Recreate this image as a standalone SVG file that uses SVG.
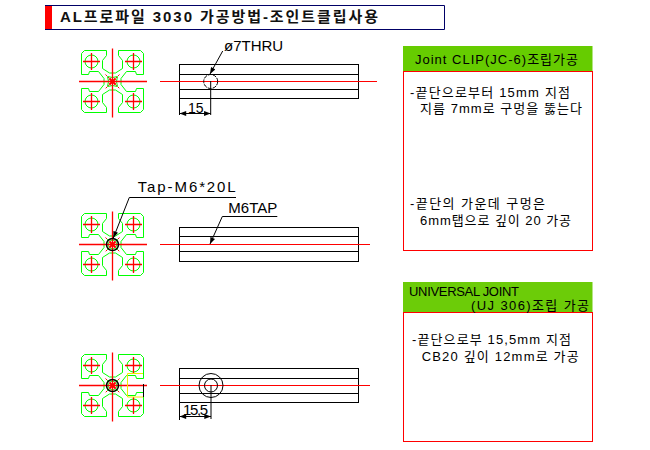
<svg xmlns="http://www.w3.org/2000/svg" xmlns:xlink="http://www.w3.org/1999/xlink" width="650" height="450" viewBox="0 0 650 450">
<style>
.k{fill:none;stroke:#000;stroke-width:1}
.r{fill:none;stroke:#f00;stroke-width:1}
.g{fill:none;stroke:#0f0;stroke-width:1}
.cad{font-family:"Liberation Sans","DejaVu Sans",sans-serif;font-size:15px;fill:#000}
.t{font-family:"Liberation Sans","Noto Sans CJK KR",sans-serif;font-size:13px;fill:#000}
.ti{font-family:"Liberation Sans","Noto Sans CJK KR",sans-serif;font-size:15px;font-weight:bold;fill:#111}
</style>
<defs>
<marker id="a" viewBox="0 0 8 6" refX="8" refY="3" markerWidth="8" markerHeight="5" orient="auto-start-reverse" markerUnits="userSpaceOnUse"><path d="M0,0L8,3L0,6z" fill="#000"/></marker>
<g id="hole"><circle r="6.500" class="g"/><path d="M-8.500,0H8.500M0,-8.500V8.500" class="r" style="stroke-width:1.300"/></g>
<g id="profile">
<path class="g" d="M-28,-31H-6V-26L-10,-21V-13L-3,-8.500H3L10,-13V-21L6,-26V-31H28L31,-28V-7H24L23,-10H14L8.500,-3V3L14,10H23L24,7H31V28L28,31H6V26L10,21V13L3,8.500H-3L-10,13V21L-6,26V31H-28L-31,28V7H-24L-23,10H-14L-8.500,3V-3L-14,-10H-23L-24,-7H-31V-28Z"/>
<path class="g" d="M-5,-5Q0,-3 5,-5Q3,0 5,5Q0,3 -5,5Q-3,0 -5,-5Z"/>
<use xlink:href="#hole" href="#hole" x="-21" y="-20"/><use xlink:href="#hole" href="#hole" x="21" y="-20"/>
<use xlink:href="#hole" href="#hole" x="-21" y="20"/><use xlink:href="#hole" href="#hole" x="21" y="20"/>
<path class="r" style="stroke-width:1.300" d="M-33.500,0H34.500M0,-33V36"/>
<path class="r" style="stroke-width:2" d="M-3,-3L3,3M3,-3L-3,3"/>
<path class="r" stroke-dasharray="2 1.500" d="M-7,-7L7,7M7,-7L-7,7"/>
</g>
</defs>
<g id="title">
<rect x="45" y="5" width="7" height="25" fill="#f00"/>
<path d="M45,5.500H444.500V29.500H45" fill="none" stroke="#006" stroke-width="1"/>
<text class="ti" x="60" y="22" textLength="318" lengthAdjust="spacing">AL프로파일 3030 가공방법-조인트클립사용</text>
</g>
<g id="profile-1"><use xlink:href="#profile" href="#profile" x="112.500" y="81.500"/></g>
<g id="profile-2"><use xlink:href="#profile" href="#profile" x="112.500" y="244.500"/><circle cx="112.500" cy="244.500" r="6" class="k" style="stroke-width:1.500"/></g>
<g id="profile-3"><use xlink:href="#profile" href="#profile" x="112.500" y="385.500"/><circle cx="112.500" cy="385.500" r="6" class="k" style="stroke-width:1.500"/>
<path d="M143,373.500H127.500V397H143" fill="none" stroke="#ee0"/><path d="M143.500,384V397" class="k"/></g>
<g id="side-1">
<rect x="179.500" y="64.500" width="179" height="34" class="k"/>
<path class="k" d="M179.500,74.500H358.500M179.500,89.500H358.500"/>
<path class="r" d="M160,81.500H377"/>
<circle cx="210.700" cy="81.500" r="7" class="k" stroke-dasharray="4 1"/>
<text class="cad" x="224" y="51">ø7THRU</text>
<text class="cad" x="188" y="112.500" style="font-size:14px">15</text>
</g>
<g id="side-2">
<rect x="179.500" y="227.500" width="179" height="34" class="k"/>
<path class="k" d="M179.500,236.500H358.500M179.500,251.500H358.500"/>
<path class="r" d="M160,244.500H370"/>
<text class="cad" x="228.300" y="213.300">M6TAP</text>
<text class="cad" x="137.700" y="191.700" textLength="98">Tap-M6*20L</text>
</g>
<g id="side-3">
<rect x="179.500" y="368.500" width="179" height="34" class="k"/>
<path class="k" d="M179.500,378.500H358.500M179.500,393.500H358.500"/>
<path class="r" d="M160,385.500H370"/>
<circle cx="211" cy="385.500" r="12" class="k"/><circle cx="211" cy="385.500" r="6.500" class="k"/>
<text class="cad" x="183" y="415" textLength="25">15,5</text>
</g>
<g id="connectors">
<path class="k" d="M222.700,51L210,74" marker-end="url(#a)"/>
<path class="k" d="M210.700,81V115M179.500,98V115"/>
<path class="k" d="M179.500,113.500H210.700" marker-start="url(#a)" marker-end="url(#a)"/>
<path class="k" d="M277.300,216.500H222.300L210,244" marker-end="url(#a)"/>
<path class="k" d="M236,197.500H129.300L113.300,238" marker-end="url(#a)"/>
<path class="k" d="M211,385V419M179.500,402V420"/>
<path class="k" d="M179.500,416.500H211" marker-start="url(#a)" marker-end="url(#a)"/>
</g>
<g id="panel-1">
<rect x="403" y="46" width="189.500" height="25" fill="#66cc00"/>
<rect x="403.500" y="71.500" width="189" height="179" fill="#fff" stroke="#f00"/>
<text class="t" x="415" y="63.500" textLength="163" lengthAdjust="spacing">Joint CLIP(JC-6)조립가공</text>
<text class="t" x="410" y="96.700" textLength="160" lengthAdjust="spacing">-끝단으로부터 15mm 지점</text>
<text class="t" x="420" y="112.700" textLength="162" lengthAdjust="spacing">지름 7mm로 구멍을 뚫는다</text>
<text class="t" x="410" y="207.500" textLength="135" lengthAdjust="spacing">-끝단의 가운데 구멍은</text>
<text class="t" x="420" y="225" textLength="151" lengthAdjust="spacing">6mm탭으로 깊이 20 가공</text>
</g>
<g id="panel-2">
<rect x="403" y="282" width="189.500" height="30" fill="#6ccc08"/>
<rect x="403.500" y="312.500" width="189" height="129" fill="#fff" stroke="#f00"/>
<text class="t" x="409" y="295.700" textLength="110">UNIVERSAL JOINT</text>
<text class="t" x="471" y="309.700" textLength="118" lengthAdjust="spacing">(UJ 306)조립 가공</text>
<text class="t" x="412" y="343.700" textLength="159" lengthAdjust="spacing">-끝단으로부 15,5mm 지점</text>
<text class="t" x="421.700" y="361" textLength="157" lengthAdjust="spacing">CB20 깊이 12mm로 가공</text>
</g>
</svg>
